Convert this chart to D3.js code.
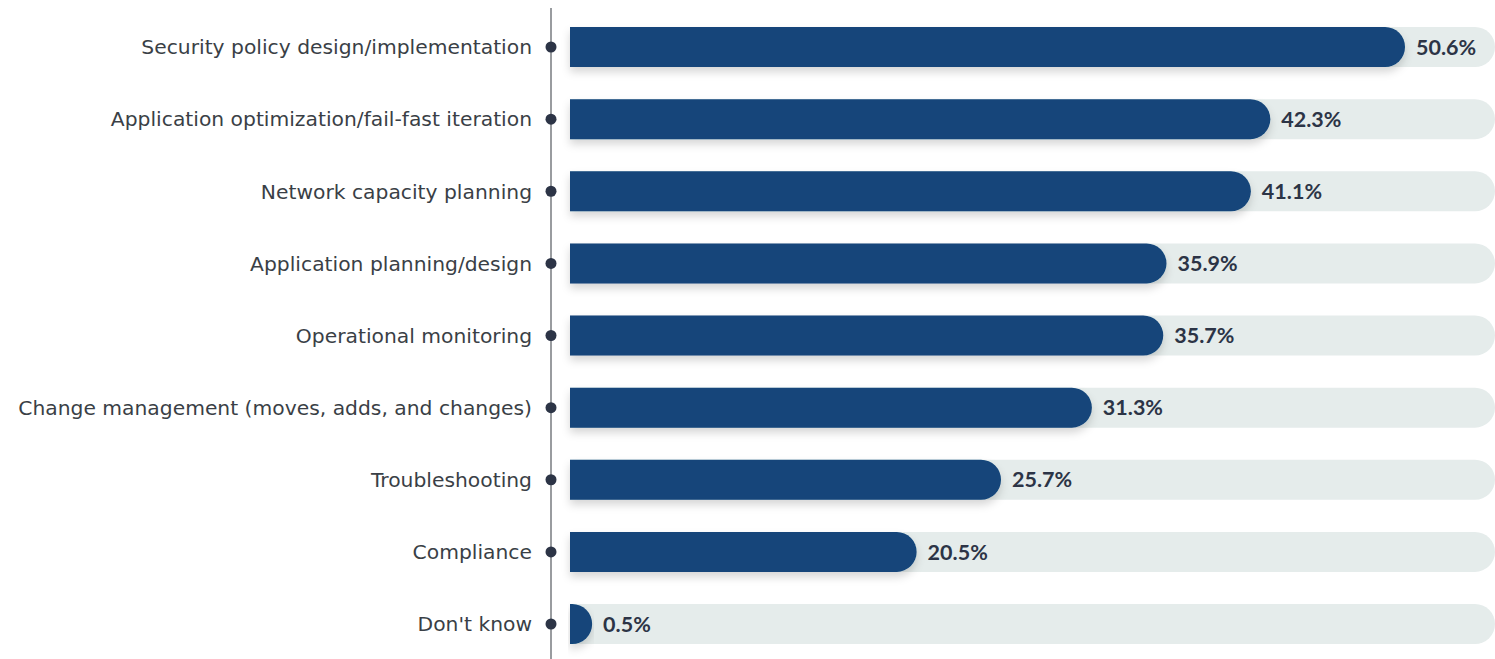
<!DOCTYPE html>
<html>
<head>
<meta charset="utf-8">
<script src="https://cdn.jsdelivr.net/npm/d3@7"></script>
<style>
  html, body { margin: 0; padding: 0; background: #ffffff; }
  svg { display: block; }
</style>
</head>
<body>
<svg id="chart" width="1495" height="659"></svg>
<script>
// Survey responses: share of respondents per use case
const categories = [
  "Security policy design/implementation",
  "Application optimization/fail-fast iteration",
  "Network capacity planning",
  "Application planning/design",
  "Operational monitoring",
  "Change management (moves, adds, and changes)",
  "Troubleshooting",
  "Compliance",
  "Don't know"
];
const values = [50.6, 42.3, 41.1, 35.9, 35.7, 31.3, 25.7, 20.5, 0.5];
const valueLabels = ["50.6%", "42.3%", "41.1%", "35.9%", "35.7%", "31.3%", "25.7%", "20.5%", "0.5%"];

const W = 1495, H = 659;
const barLeft = 570, trackRight = 1495;
const axisX = 551;
const barH = 40, r = 20;

const svg = d3.select("#chart");

const y = d3.scalePoint()
  .domain(categories)
  .range([47, 624]);

// Value scale: bar end position (rounded cap included)
const x = d3.scaleLinear()
  .domain([0, 50.6])
  .range([584, 1405]);

const defs = svg.append("defs");
const f = defs.append("filter").attr("id", "shadow")
  .attr("x", "-5%").attr("y", "-30%").attr("width", "110%").attr("height", "180%");
f.append("feDropShadow")
  .attr("dx", 0).attr("dy", 5).attr("stdDeviation", 4)
  .attr("flood-color", "#000").attr("flood-opacity", 0.16);

function capPath(x0, x1, cy) {
  const top = cy - barH / 2, bot = cy + barH / 2;
  const xs = Math.max(x0, x1 - r);
  return `M${x0},${top} H${xs} A${x1 - xs},${r} 0 0 1 ${xs},${bot} H${x0} Z`;
}

// background tracks
svg.append("g").selectAll("path")
  .data(categories)
  .join("path")
  .attr("d", d => capPath(barLeft, trackRight, y(d)))
  .attr("fill", "#e5eceb");

// value bars
svg.append("g").selectAll("path")
  .data(values)
  .join("path")
  .attr("d", (v, i) => capPath(barLeft, x(v), y(categories[i])))
  .attr("fill", "#12457a")
  .attr("filter", "url(#shadow)");

// value labels
svg.append("g").selectAll("text")
  .data(values)
  .join("text")
  .attr("x", v => x(v) + 11)
  .attr("y", (v, i) => y(categories[i]))
  .attr("dy", "0.36em")
  .attr("font-family", "Lato, 'Open Sans', sans-serif")
  .attr("font-weight", 700)
  .attr("font-size", 21.5)
  .attr("fill", "#2c3446")
  .text((v, i) => valueLabels[i]);

// vertical axis line
svg.append("line")
  .attr("x1", axisX).attr("x2", axisX)
  .attr("y1", 8).attr("y2", H)
  .attr("stroke", "#555a60").attr("stroke-width", 1.2);

// dots
svg.append("g").selectAll("circle")
  .data(categories)
  .join("circle")
  .attr("cx", axisX)
  .attr("cy", d => y(d))
  .attr("r", 5.5)
  .attr("fill", "#2c3446");

// category labels
svg.append("g").selectAll("text")
  .data(categories)
  .join("text")
  .attr("x", 532)
  .attr("y", d => y(d))
  .attr("dy", "0.36em")
  .attr("text-anchor", "end")
  .attr("font-family", "'DejaVu Sans', sans-serif")
  .attr("font-size", 20.3)
  .attr("fill", "#3a3f46")
  .text(d => d);
</script>
</body>
</html>
